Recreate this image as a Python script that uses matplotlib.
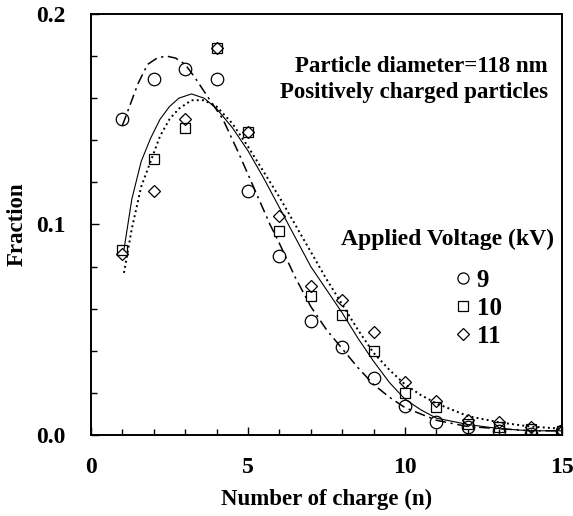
import matplotlib
matplotlib.use('Agg')
import matplotlib.pyplot as plt
from matplotlib.lines import Line2D
from matplotlib.ticker import MultipleLocator, FormatStrFormatter

plt.rcParams['font.family'] = ['Liberation Serif', 'DejaVu Serif']
plt.rcParams['font.weight'] = 'bold'

# measured points (number of charges n = 1..15)
n = list(range(1, 16))
frac_9kv = [0.150, 0.169, 0.174, 0.169, 0.116, 0.085, 0.054, 0.042, 0.027, 0.014,
            0.006, 0.004, 0.002, 0.0005, 0.002]
frac_10kv = [0.088, 0.131, 0.146, 0.184, 0.144, 0.097, 0.066, 0.057, 0.040, 0.020,
             0.0135, 0.005, 0.004, 0.003, 0.002]
frac_11kv = [0.086, 0.116, 0.150, 0.184, 0.144, 0.104, 0.071, 0.064, 0.049, 0.025,
             0.016, 0.007, 0.006, 0.004, 0.002]

# fitted curves
fit9_x = [1.0, 1.25, 1.5, 1.8, 2.1, 2.4, 2.7, 3.0, 3.3, 3.7, 4.2, 4.7, 5.2, 5.7, 6.0,
          6.5, 7.0, 7.5, 8.0, 8.5, 9.0, 9.5, 10.0, 10.5, 11.0, 12.0, 13.0, 14.0, 15.0]
fit9_y = [0.147, 0.157, 0.167, 0.176, 0.179, 0.180, 0.179, 0.176, 0.170, 0.161, 0.150,
          0.134, 0.117, 0.100, 0.091, 0.075, 0.061, 0.050, 0.041, 0.032, 0.024, 0.018,
          0.013, 0.010, 0.007, 0.004, 0.003, 0.002, 0.002]
fit10_x = [1.05, 1.3, 1.6, 1.9, 2.2, 2.5, 2.8, 3.2, 3.6, 4.0, 4.5, 5.0, 5.5, 6.0, 6.5,
           7.0, 7.5, 8.0, 8.5, 9.0, 9.5, 10.0, 10.5, 11.0, 12.0, 13.0, 14.0, 15.0]
fit10_y = [0.088, 0.112, 0.130, 0.141, 0.150, 0.156, 0.160, 0.162, 0.160, 0.155, 0.146,
           0.135, 0.122, 0.108, 0.094, 0.080, 0.069, 0.058, 0.046, 0.035, 0.025, 0.017,
           0.012, 0.008, 0.005, 0.003, 0.002, 0.002]
fit11_x = fit10_x
fit11_y = [0.077, 0.098, 0.118, 0.130, 0.142, 0.150, 0.155, 0.159, 0.159, 0.156, 0.148,
           0.137, 0.125, 0.113, 0.100, 0.087, 0.074, 0.062, 0.050, 0.039, 0.031, 0.024,
           0.019, 0.015, 0.009, 0.006, 0.004, 0.003]

voltages = ['9', '10', '11']

fig = plt.figure(figsize=(5.73, 5.16), dpi=100)
ax = fig.add_axes([0.1588, 0.157, 0.822, 0.816])

ax.plot(fit9_x, fit9_y, color='black', lw=1.1, dashes=(7, 3, 1.5, 3))
ax.plot(fit10_x, fit10_y, color='black', lw=0.8, ls='-')
ax.plot(fit11_x, fit11_y, color='black', lw=1.4, ls=':')

ax.plot(n, frac_9kv, ls='none', marker='o', ms=9, mfc='none', mec='black', mew=0.9)
ax.plot(n, frac_10kv, ls='none', marker='s', ms=6.5, mfc='none', mec='black', mew=0.9)
ax.plot(n, frac_11kv, ls='none', marker='D', ms=6.5, mfc='none', mec='black', mew=0.9)

ax.set_xlim(0, 15)
ax.set_ylim(0, 0.2)
ax.xaxis.set_major_locator(MultipleLocator(5))
ax.xaxis.set_minor_locator(MultipleLocator(1))
ax.yaxis.set_major_locator(MultipleLocator(0.1))
ax.yaxis.set_minor_locator(MultipleLocator(0.02))
ax.yaxis.set_major_formatter(FormatStrFormatter('%.1f'))
ax.tick_params(which='both', direction='in', top=False, right=False, width=1.0)
ax.tick_params(which='major', length=6, labelsize=17)
ax.tick_params(which='minor', length=4)
ax.tick_params(axis='y', which='major', pad=18)
ax.tick_params(axis='x', which='major', pad=16)
for s in ax.spines.values():
    s.set_linewidth(1.4)

ax.set_xlabel('Number of charge (n)', fontsize=16.5, fontweight='bold', va='center')
ax.set_ylabel('Fraction', fontsize=16.5, fontweight='bold', va='center')
ax.xaxis.set_label_coords(0.5, -0.154)
ax.yaxis.set_label_coords(-0.157, 0.5)

ax.text(0.970, 0.862, 'Particle diameter=118 nm', transform=ax.transAxes,
        ha='right', va='baseline', fontsize=16.5, fontweight='bold')
ax.text(0.970, 0.800, 'Positively charged particles', transform=ax.transAxes,
        ha='right', va='baseline', fontsize=16.5, fontweight='bold')
ax.text(0.983, 0.451, 'Applied Voltage (kV)', transform=ax.transAxes,
        ha='right', va='baseline', fontsize=17, fontweight='bold')

handles = [Line2D([], [], ls='none', marker='o', ms=8, mfc='none', mec='black', mew=0.9),
           Line2D([], [], ls='none', marker='s', ms=6.5, mfc='none', mec='black', mew=0.9),
           Line2D([], [], ls='none', marker='D', ms=6.5, mfc='none', mec='black', mew=0.9)]
ax.legend(handles, voltages, loc='upper left', bbox_to_anchor=(0.742, 0.425),
          frameon=False, handlelength=0.8, handletextpad=0.15, labelspacing=0.2,
          borderpad=0, prop={'size': 18, 'weight': 'bold'})

fig.savefig('out.png', dpi=100, facecolor='white')
